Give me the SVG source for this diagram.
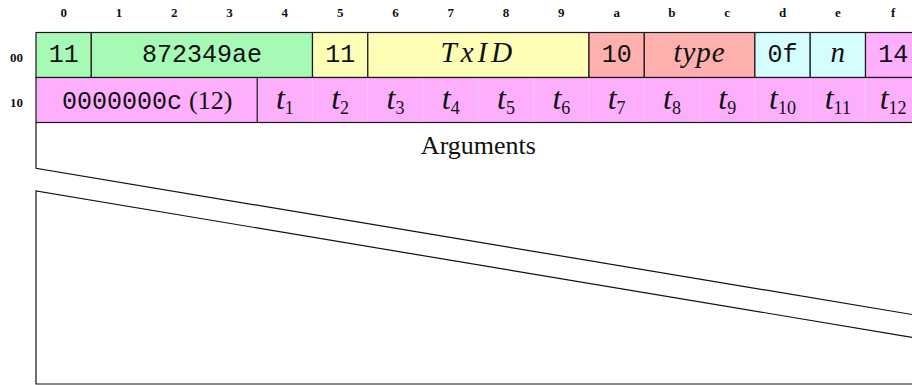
<svg xmlns="http://www.w3.org/2000/svg" width="912" height="385" viewBox="0 0 912 385">
<style>
.g{fill:#a6fab6}.y{fill:#fefeb6}.r{fill:#fdb0ae}.c{fill:#d4fefe}.m{fill:#fdaffd}
.cell{stroke:#1a1a1a;stroke-width:1.2}
.sep{stroke:#f3c6f3;stroke-width:1}
.ln{stroke:#111;stroke-width:1.2;fill:none}
.mono{font-family:"Liberation Mono",monospace;font-size:25px;fill:#111;text-anchor:middle}
.it{font-family:"Liberation Serif",serif;font-style:italic;font-size:29px;fill:#111;text-anchor:middle}
.tt{font-family:"Liberation Serif",serif;font-style:italic;font-size:32px;fill:#111;text-anchor:middle}
.ser{font-family:"Liberation Serif",serif;font-size:26px;fill:#111}
.lab{font-family:"Liberation Serif",serif;font-weight:bold;font-size:13px;fill:#111;text-anchor:middle}
.sub{font-size:18px;font-style:normal}
</style>
<g id="column-labels">
<text class="lab" x="63.65" y="17">0</text>
<text class="lab" x="118.95" y="17">1</text>
<text class="lab" x="174.25" y="17">2</text>
<text class="lab" x="229.55" y="17">3</text>
<text class="lab" x="284.85" y="17">4</text>
<text class="lab" x="340.15" y="17">5</text>
<text class="lab" x="395.45" y="17">6</text>
<text class="lab" x="450.75" y="17">7</text>
<text class="lab" x="506.05" y="17">8</text>
<text class="lab" x="561.35" y="17">9</text>
<text class="lab" x="616.65" y="17">a</text>
<text class="lab" x="671.95" y="17">b</text>
<text class="lab" x="727.25" y="17">c</text>
<text class="lab" x="782.55" y="17">d</text>
<text class="lab" x="837.85" y="17">e</text>
<text class="lab" x="893.15" y="17">f</text>
</g>
<g id="row-labels">
<text class="lab" x="16.5" y="61.5">00</text>
<text class="lab" x="16.5" y="107">10</text>
</g>
<g id="f-11a"><rect class="g cell" x="36" y="32.5" width="55.3" height="45"/><text class="mono" x="63.65" y="62">11</text></g>
<g id="f-addr"><rect class="g cell" x="91.3" y="32.5" width="221.2" height="45"/><text class="mono" x="201.9" y="62">872349ae</text></g>
<g id="f-11b"><rect class="y cell" x="312.5" y="32.5" width="55.3" height="45"/><text class="mono" x="340.15" y="62">11</text></g>
<g id="f-txid"><rect class="y cell" x="367.8" y="32.5" width="221.2" height="45"/><text class="it" x="478.4" y="62" letter-spacing="4">TxID</text></g>
<g id="f-10"><rect class="r cell" x="589" y="32.5" width="55.3" height="45"/><text class="mono" x="616.65" y="62">10</text></g>
<g id="f-type"><rect class="r cell" x="644.3" y="32.5" width="110.6" height="45"/><text class="it" x="699.6" y="62" letter-spacing="1">type</text></g>
<g id="f-0f"><rect class="c cell" x="754.9" y="32.5" width="55.3" height="45"/><text class="mono" x="782.55" y="62">0f</text></g>
<g id="f-n"><rect class="c cell" x="810.2" y="32.5" width="55.3" height="45"/><text class="it" x="837.85" y="62">n</text></g>
<g id="f-14"><rect class="m cell" x="865.5" y="32.5" width="55.3" height="45"/><text class="mono" x="893.15" y="62">14</text></g>
<g id="row2">
<rect class="m cell" x="36" y="77.5" width="884.8" height="45"/>
<line class="sep" x1="312.5" y1="78.5" x2="312.5" y2="121.5"/>
<line class="sep" x1="367.8" y1="78.5" x2="367.8" y2="121.5"/>
<line class="sep" x1="423.1" y1="78.5" x2="423.1" y2="121.5"/>
<line class="sep" x1="478.4" y1="78.5" x2="478.4" y2="121.5"/>
<line class="sep" x1="533.7" y1="78.5" x2="533.7" y2="121.5"/>
<line class="sep" x1="589" y1="78.5" x2="589" y2="121.5"/>
<line class="sep" x1="644.3" y1="78.5" x2="644.3" y2="121.5"/>
<line class="sep" x1="699.6" y1="78.5" x2="699.6" y2="121.5"/>
<line class="sep" x1="754.9" y1="78.5" x2="754.9" y2="121.5"/>
<line class="sep" x1="810.2" y1="78.5" x2="810.2" y2="121.5"/>
<line class="sep" x1="865.5" y1="78.5" x2="865.5" y2="121.5"/>
<line x1="257.2" y1="77.5" x2="257.2" y2="122.5" stroke="#1a1a1a" stroke-width="1.2"/>
</g>
<g id="f-len">
<text class="mono" x="62" y="108.5" style="text-anchor:start">0000000c</text>
<text class="ser" x="189" y="108.5">(12)</text>
</g>
<g id="f-types">
<text class="tt" x="284.85" y="108.5">t<tspan class="sub" dy="5">1</tspan></text>
<text class="tt" x="340.15" y="108.5">t<tspan class="sub" dy="5">2</tspan></text>
<text class="tt" x="395.45" y="108.5">t<tspan class="sub" dy="5">3</tspan></text>
<text class="tt" x="450.75" y="108.5">t<tspan class="sub" dy="5">4</tspan></text>
<text class="tt" x="506.05" y="108.5">t<tspan class="sub" dy="5">5</tspan></text>
<text class="tt" x="561.35" y="108.5">t<tspan class="sub" dy="5">6</tspan></text>
<text class="tt" x="616.65" y="108.5">t<tspan class="sub" dy="5">7</tspan></text>
<text class="tt" x="671.95" y="108.5">t<tspan class="sub" dy="5">8</tspan></text>
<text class="tt" x="727.25" y="108.5">t<tspan class="sub" dy="5">9</tspan></text>
<text class="tt" x="782.55" y="108.5">t<tspan class="sub" dy="5">10</tspan></text>
<text class="tt" x="837.85" y="108.5">t<tspan class="sub" dy="5">11</tspan></text>
<text class="tt" x="893.15" y="108.5">t<tspan class="sub" dy="5">12</tspan></text>
</g>
<g id="arguments">
<text class="ser" x="478.4" y="154" text-anchor="middle" font-size="27">Arguments</text>
</g>
<g id="connectors">
<path class="ln" d="M36 122.5 V168.3 L912 314.5"/>
<path class="ln" d="M912 337.3 L36 191 V384 H912"/>
</g>
</svg>
